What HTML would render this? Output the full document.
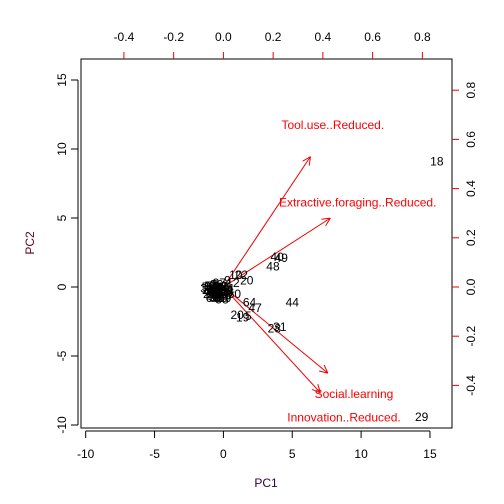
<!DOCTYPE html>
<html><head><meta charset="utf-8"><style>
body{margin:0;background:#fff}
svg{display:block;font-family:"Liberation Sans",sans-serif}
</style></head><body>
<svg id="chart" width="504" height="504" viewBox="0 0 504 504" xmlns="http://www.w3.org/2000/svg">
<rect width="504" height="504" fill="#fff"/>
<g id="axes"></g>
<g id="arrows"></g>
<g id="points"></g>
</svg>
<script>
const xTicks=[-10,-5,0,5,10,15];
const yTicks=[-10,-5,0,5,10,15];
const x2Ticks=[-0.4,-0.2,0.0,0.2,0.4,0.6,0.8];
const y2Ticks=[-0.4,-0.2,0.0,0.2,0.4,0.6,0.8];
const pointLabels=["18","29","44","49","40","48","31","28","64","47","20","20","19","5","22","10","12","9","3","50","1","6","7","8","11","13","14","15","16","17","21","23","24","25","26","27","30","32","33","34","35","36","37","38","39","41","42","43","45","46","51","52","53","54","55","56","57","58","59","60","61","62","63","65"];
const pointX=[15.5,14.4,5.0,4.2,3.9,3.6,4.1,3.7,1.9,2.3,1.7,1.0,1.4,1.8,1.3,0.9,0.7,0.3,0.5,0.8,0.6,-1.0,-0.8,-0.6,-0.4,-0.2,0.0,-1.1,-0.9,-0.7,-0.5,-0.3,-0.1,0.1,-1.0,-0.8,-0.6,-0.4,-0.2,-0.9,-0.7,-0.5,-0.3,0.2,-1.2,-1.0,-0.8,-0.6,-0.4,-0.2,0.0,0.2,-1.1,-0.9,-0.7,-0.5,-0.3,-0.1,0.1,-0.8,-0.6,-0.4,-0.2,0.0];
const pointY=[9.1,-9.4,-1.1,2.1,2.2,1.5,-2.9,-3.0,-1.1,-1.5,0.5,-2.0,-2.2,-2.1,0.9,0.9,0.3,0.5,-0.3,-0.5,-0.1,0.1,0.1,0.2,0.0,0.1,-0.1,-0.2,-0.3,-0.3,-0.4,-0.2,-0.5,-0.6,-0.5,-0.6,-0.7,-0.6,-0.8,0.0,-0.1,0.2,0.3,-0.4,-0.1,-0.3,-0.4,-0.2,-0.5,-0.3,-0.4,-0.2,0.0,0.1,-0.5,-0.8,-0.7,-0.9,-0.8,-0.8,0.0,-0.1,0.0,0.0];
const varNames=["Tool.use..Reduced.","Extractive.foraging..Reduced.","Social.learning","Innovation..Reduced."];
const loadX=[0.35,0.43,0.42,0.39];
const loadY=[0.53,0.28,-0.35,-0.43];
const labelX=[0.44,0.54,0.525,0.485];
const labelY=[0.66,0.345,-0.435,-0.53];

const NS="http://www.w3.org/2000/svg";
const L=81,R=452,T=59,B=428;
const sx=v=>223.4+v*13.77, sy=v=>287-v*13.8;
const sx2=v=>223.4+v*248.7, sy2=v=>287-v*246;
function mk(tag,attrs,parent,txt){const e=document.createElementNS(NS,tag);for(const k in attrs)e.setAttribute(k,attrs[k]);if(txt!==undefined)e.textContent=txt;parent.appendChild(e);return e;}
const ax=document.getElementById('axes');
const box=mk('rect',{x:L,y:T,width:R-L,height:B-T,fill:'none',stroke:'#000'},ax);


mk('line',{x1:sx(-10),x2:sx(15),y1:B+3,y2:B+3,stroke:'#000'},ax);
xTicks.forEach(t=>{mk('line',{x1:sx(t),x2:sx(t),y1:B+3,y2:B+10,stroke:'#000'},ax);
const e=mk('text',{x:sx(t),y:B+30,'text-anchor':'middle','font-size':12,fill:'#000'},ax,String(t));

});
mk('line',{x1:L-3,x2:L-3,y1:sy(-10),y2:sy(15),stroke:'#000'},ax);
yTicks.forEach(t=>{mk('line',{x1:L-3,x2:L-10,y1:sy(t),y2:sy(t),stroke:'#000'},ax);
const e=mk('text',{x:L-19,y:sy(t),'text-anchor':'middle','font-size':12,fill:'#000',transform:`rotate(-90 ${L-19} ${sy(t)})`,dy:'0.35em'},ax,String(t));

});
x2Ticks.forEach(t=>{mk('line',{x1:sx2(t),x2:sx2(t),y1:T,y2:T-7,stroke:'#e00'},ax);
const e=mk('text',{x:sx2(t),y:T-18,'text-anchor':'middle','font-size':12,fill:'#000'},ax,t.toFixed(1));

});
y2Ticks.forEach(t=>{mk('line',{x1:R,x2:R+7,y1:sy2(t),y2:sy2(t),stroke:'#e00'},ax);
const e=mk('text',{x:R+19,y:sy2(t),'text-anchor':'middle','font-size':12,fill:'#000',transform:`rotate(-90 ${R+19} ${sy2(t)})`,dy:'0.35em'},ax,t.toFixed(1));

});
const xt=mk('text',{x:266,y:487,'text-anchor':'middle','font-size':12,fill:'#300040'},ax,'PC1');


const yt=mk('text',{x:34,y:243,'text-anchor':'middle','font-size':12,fill:'#600020',transform:'rotate(-90 34 243)'},ax,'PC2');


const pg=document.getElementById('points');
pointLabels.forEach((lb,i)=>{const e=mk('text',{x:sx(pointX[i]),y:sy(pointY[i]),'text-anchor':'middle',dy:'0.35em','font-size':12,fill:'#000'},pg,lb);

});
const ag=document.getElementById('arrows');
varNames.forEach((n,i)=>{const x0=sx2(0),y0=sy2(0),x1=sx2(loadX[i]),y1=sy2(loadY[i]);
const g=mk('g',{},ag);


mk('line',{x1:x0,y1:y0,x2:x1,y2:y1,stroke:'#e00'},g);
const a=Math.atan2(y1-y0,x1-x0),h=9;
[a+Math.PI-0.45,a+Math.PI+0.45].forEach(b=>mk('line',{x1:x1,y1:y1,x2:x1+h*Math.cos(b),y2:y1+h*Math.sin(b),stroke:'#e00'},g));
const t=mk('text',{x:sx2(labelX[i]),y:sy2(labelY[i]),'text-anchor':'middle',dy:'0.35em','font-size':12,fill:'#f00'},ag,n);

});
</script>
</body></html>
